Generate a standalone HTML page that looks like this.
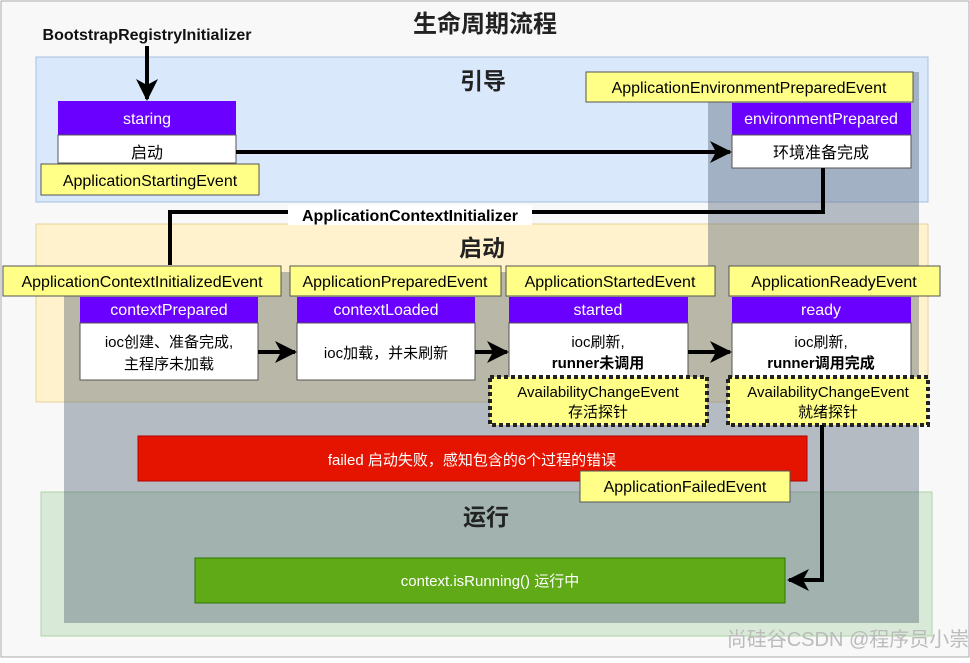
<!DOCTYPE html>
<html><head><meta charset="utf-8"><style>
html,body{margin:0;padding:0;background:#fff}
svg text{font-family:"Liberation Sans","Noto Sans CJK SC",sans-serif}
</style></head><body>
<svg width="970" height="658" viewBox="0 0 970 658" xmlns="http://www.w3.org/2000/svg">
<defs>
<marker id="ah2" markerWidth="22" markerHeight="22" refX="20" refY="11" orient="auto" markerUnits="userSpaceOnUse"><path d="M0,0 L22,11 L0,22 L6,11 z" fill="#000"/></marker>
</defs>
<rect x="1" y="1" width="968" height="656" fill="#f8f8f8" stroke="#aaa"/>
<rect x="36" y="57" width="892" height="145" fill="#dae8fc" stroke="#a8c0e0"/>
<rect x="36" y="224" width="892" height="178" fill="#fff2cc" stroke="#e6d49a"/>
<rect x="41" y="492" width="891" height="144" fill="#d5e8d4" stroke="#a8d0a0" opacity="0.9"/>
<path d="M708,72 H919 V623 H64 V272 H708 Z" fill="rgba(80,95,115,0.40)"/>
<text x="485" y="32" font-size="24" font-weight="bold" text-anchor="middle" fill="#222">生命周期流程</text>
<text x="483" y="89" font-size="23" font-weight="bold" text-anchor="middle" fill="#222">引导</text>
<text x="482" y="256" font-size="23" font-weight="bold" text-anchor="middle" fill="#222">启动</text>
<text x="486" y="525" font-size="23" font-weight="bold" text-anchor="middle" fill="#222">运行</text>
<text x="147" y="40" font-size="16" font-weight="bold" text-anchor="middle" fill="#111">BootstrapRegistryInitializer</text>
<line x1="147" y1="46" x2="147" y2="99" stroke="#000" stroke-width="4" marker-end="url(#ah2)"/>
<rect x="58" y="101" width="178" height="34" fill="#6a00ff"/>
<text x="147" y="124" font-size="16" fill="#fff" text-anchor="middle">staring</text>
<rect x="58" y="135" width="178" height="28" fill="#fff" stroke="#555"/>
<text x="147" y="158" font-size="16" text-anchor="middle">启动</text>
<rect x="41" y="164" width="218" height="31" fill="#ffff88" stroke="#555"/>
<text x="150" y="186" font-size="16" text-anchor="middle">ApplicationStartingEvent</text>
<rect x="586" y="72" width="327" height="30" fill="#ffff88" stroke="#555"/>
<text x="749" y="93" font-size="16" text-anchor="middle">ApplicationEnvironmentPreparedEvent</text>
<rect x="732" y="103" width="179" height="32" fill="#6a00ff"/>
<text x="821" y="124" font-size="16" fill="#fff" text-anchor="middle">environmentPrepared</text>
<rect x="732" y="135" width="179" height="33" fill="#fff" stroke="#555"/>
<text x="821" y="158" font-size="16" text-anchor="middle">环境准备完成</text>
<line x1="236" y1="152" x2="730" y2="152" stroke="#000" stroke-width="4" marker-end="url(#ah2)"/>
<polyline points="823,168 823,212 170,212 170,265" fill="none" stroke="#000" stroke-width="4"/>
<rect x="288" y="205" width="244" height="20" fill="#fff"/>
<text x="410" y="221" font-size="16" font-weight="bold" text-anchor="middle">ApplicationContextInitializer</text>
<rect x="3" y="266" width="278" height="30" fill="#ffff88" stroke="#555"/>
<text x="142" y="287" font-size="16" text-anchor="middle">ApplicationContextInitializedEvent</text>
<rect x="290" y="266" width="211" height="30" fill="#ffff88" stroke="#555"/>
<text x="395" y="287" font-size="16" text-anchor="middle">ApplicationPreparedEvent</text>
<rect x="506" y="266" width="209" height="30" fill="#ffff88" stroke="#555"/>
<text x="610" y="287" font-size="16" text-anchor="middle">ApplicationStartedEvent</text>
<rect x="729" y="266" width="211" height="30" fill="#ffff88" stroke="#555"/>
<text x="834" y="287" font-size="16" text-anchor="middle">ApplicationReadyEvent</text>
<rect x="80" y="297" width="178" height="26" fill="#6a00ff"/><text x="169" y="315" font-size="16" fill="#fff" text-anchor="middle">contextPrepared</text>
<rect x="297" y="297" width="178" height="26" fill="#6a00ff"/><text x="386" y="315" font-size="16" fill="#fff" text-anchor="middle">contextLoaded</text>
<rect x="509" y="297" width="179" height="26" fill="#6a00ff"/><text x="598" y="315" font-size="16" fill="#fff" text-anchor="middle">started</text>
<rect x="732" y="297" width="179" height="26" fill="#6a00ff"/><text x="821" y="315" font-size="16" fill="#fff" text-anchor="middle">ready</text>
<rect x="80" y="323" width="178" height="57" fill="#fff" stroke="#555"/>
<text x="169" y="347" font-size="15" text-anchor="middle">ioc创建、准备完成,</text>
<text x="169" y="369" font-size="15" text-anchor="middle">主程序未加载</text>
<rect x="297" y="323" width="178" height="57" fill="#fff" stroke="#555"/>
<text x="386" y="358" font-size="15" text-anchor="middle">ioc加载，并未刷新</text>
<rect x="509" y="323" width="179" height="57" fill="#fff" stroke="#555"/>
<text x="598" y="347" font-size="15" text-anchor="middle">ioc刷新,</text>
<text x="598" y="368" font-size="15" font-weight="bold" text-anchor="middle">runner未调用</text>
<rect x="732" y="323" width="179" height="57" fill="#fff" stroke="#555"/>
<text x="821" y="347" font-size="15" text-anchor="middle">ioc刷新,</text>
<text x="821" y="368" font-size="15" font-weight="bold" text-anchor="middle">runner调用完成</text>
<line x1="258" y1="352" x2="295" y2="352" stroke="#000" stroke-width="4" marker-end="url(#ah2)"/>
<line x1="475" y1="352" x2="507" y2="352" stroke="#000" stroke-width="4" marker-end="url(#ah2)"/>
<line x1="688" y1="352" x2="730" y2="352" stroke="#000" stroke-width="4" marker-end="url(#ah2)"/>
<rect x="490" y="377" width="217" height="48" fill="#ffff88" stroke="#222" stroke-width="4" stroke-dasharray="4,3"/>
<text x="598" y="397" font-size="15" text-anchor="middle">AvailabilityChangeEvent</text>
<text x="598" y="417" font-size="15" text-anchor="middle">存活探针</text>
<rect x="728" y="377" width="200" height="48" fill="#ffff88" stroke="#222" stroke-width="4" stroke-dasharray="4,3"/>
<text x="828" y="397" font-size="15" text-anchor="middle">AvailabilityChangeEvent</text>
<text x="828" y="417" font-size="15" text-anchor="middle">就绪探针</text>
<rect x="138" y="436" width="669" height="45" fill="#e51400" stroke="#b20000"/>
<text x="472" y="465" font-size="15" fill="#fff" text-anchor="middle">failed  启动失败，感知包含的6个过程的错误</text>
<rect x="580" y="471" width="210" height="31" fill="#ffff88" stroke="#555"/>
<text x="685" y="492" font-size="16" text-anchor="middle">ApplicationFailedEvent</text>
<rect x="195" y="558" width="590" height="45" fill="#60a917" stroke="#2d7600"/>
<text x="490" y="586" font-size="15" fill="#fff" text-anchor="middle">context.isRunning()  运行中</text>
<polyline points="822,425 822,580 789,580" fill="none" stroke="#000" stroke-width="4" marker-end="url(#ah2)"/>
<text x="848" y="646" font-size="20" fill="#bbb" text-anchor="middle">尚硅谷CSDN @程序员小崇</text>
</svg>
</body></html>
